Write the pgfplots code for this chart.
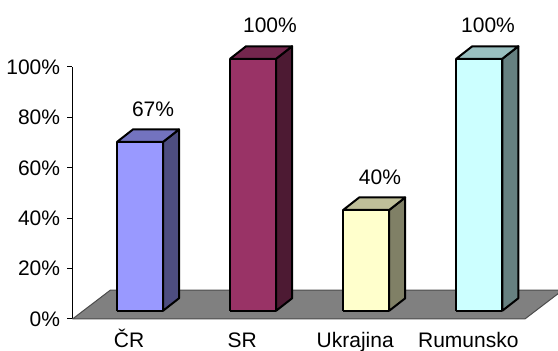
\documentclass[border=0pt]{standalone}
\usepackage{fontspec}
\setmainfont{Liberation Sans}
\usepackage{pgfplots}
\usepackage{pgfplotstable}
\pgfplotsset{compat=1.18}

\definecolor{b0f}{HTML}{9999FF}\definecolor{b0s}{HTML}{4D4D80}\definecolor{b0t}{HTML}{7373BF}
\definecolor{b1f}{HTML}{993366}\definecolor{b1s}{HTML}{4D1A33}\definecolor{b1t}{HTML}{73264D}
\definecolor{b2f}{HTML}{FFFFCC}\definecolor{b2s}{HTML}{808066}\definecolor{b2t}{HTML}{BFBF99}
\definecolor{b3f}{HTML}{CCFFFF}\definecolor{b3s}{HTML}{668080}\definecolor{b3t}{HTML}{99BFBF}
\definecolor{floorgray}{HTML}{808080}

\pgfplotstableread{
idx value lx
0 67 0.712
1 100 1.746
2 40 2.719
3 100 3.674
}\datatable

\newcommand{\barthreed}[1]{%
 \pgfplotstablegetelem{#1}{value}\of\datatable \let\barval\pgfplotsretval
 \pgfmathsetmacro\xl{#1+0.5-0.1065}%
 \pgfmathsetmacro\xr{#1+0.5+0.3005}%
 \pgfmathsetmacro\xbl{\xl+0.1415}%
 \pgfmathsetmacro\xbr{\xr+0.1415}%
 \pgfmathsetmacro\ya{3.27}%
 \pgfmathsetmacro\yb{3.27+\barval}%
 \pgfmathsetmacro\yc{3.27+4.96}%
 \pgfmathsetmacro\yd{3.27+\barval+4.96}%
 \edef\tmp{%
  \noexpand\addplot[fill=b#1s, draw=black, line width=1pt, line join=round] coordinates {(\xr,\ya) (\xbr,\yc) (\xbr,\yd) (\xr,\yb) (\xr,\ya)};
  \noexpand\addplot[fill=b#1t, draw=black, line width=1pt, line join=round] coordinates {(\xl,\yb) (\xr,\yb) (\xbr,\yd) (\xbl,\yd) (\xl,\yb)};
  \noexpand\addplot[fill=b#1f, draw=black, line width=1pt, line join=round] coordinates {(\xl,\ya) (\xr,\ya) (\xr,\yb) (\xl,\yb) (\xl,\ya)};
 }\tmp
}

\begin{document}
\fontsize{10.5}{12.6}\selectfont
\begin{tikzpicture}[font=\fontsize{10.5}{12.6}\selectfont]
\begin{axis}[
  at={(0,0)}, anchor=south west,
  scale only axis, width=226.2pt, height=126pt,
  xmin=0, xmax=4, ymin=0, ymax=100,
  clip=false,
  axis x line*=bottom, axis y line*=left,
  x axis line style={draw=none,-},
  y axis line style={black, line width=0.5pt, -},
  xtick={0.5,1.5,2.5,3.5},
  xticklabels={ČR,SR,Ukrajina,Rumunsko},
  xtick style={draw=none},
  xticklabel style={anchor=base, yshift=-12pt},
  ytick={0,20,40,60,80,100},
  yticklabel={\pgfmathprintnumber{\tick}\%},
  ytick style={black, line width=0.5pt},
  tick align=outside, major tick length=2.5pt,
  /pgf/number format/assume math mode=true,
]
\addplot[fill=floorgray, draw=black!70, line width=0.5pt] coordinates {(0,0) (4,0) (4.336,11.5) (0.336,11.5) (0,0)};
\barthreed{0}
\barthreed{1}
\barthreed{2}
\barthreed{3}
\addplot[draw=none, mark=none, point meta=explicit,
  nodes near coords={\pgfmathprintnumber{\pgfplotspointmeta}\%},
  every node near coord/.append style={anchor=base, inner sep=0pt}]
  table[x=lx, y expr=\thisrow{value}+13.5, meta=value]{\datatable};
\end{axis}
\pgfresetboundingbox
\useasboundingbox (-36.25pt,-16pt) rectangle (242.75pt,159.5pt);
\end{tikzpicture}
\end{document}
